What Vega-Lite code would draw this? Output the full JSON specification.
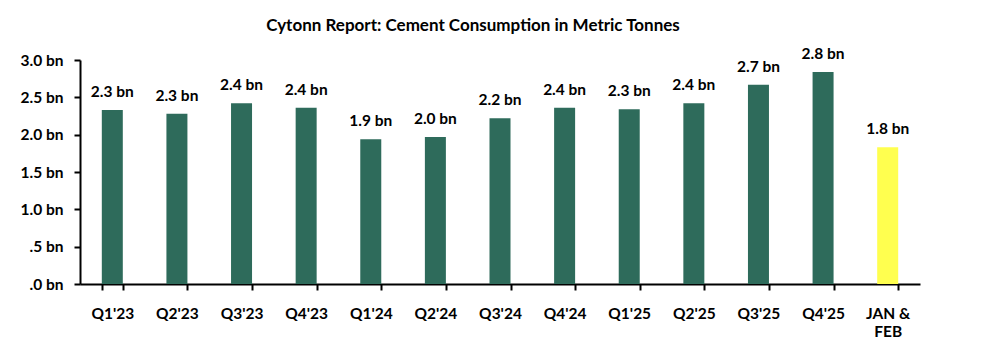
{
  "$schema": "https://vega.github.io/schema/vega-lite/v6.json",
  "autosize": "none",
  "width": 840,
  "height": 224,
  "padding": {"left": 80, "top": 60, "right": 66, "bottom": 70},
  "background": "white",
  "title": {
    "text": "Cytonn Report: Cement Consumption in Metric Tonnes",
    "font": "Lato",
    "fontSize": 17,
    "fontWeight": "bold",
    "color": "black",
    "anchor": "middle",
    "dx": -27,
    "offset": 12
  },
  "data": {
    "values": [
      {"period": "Q1'23", "value": 2.33, "kind": "q"},
      {"period": "Q2'23", "value": 2.28, "kind": "q"},
      {"period": "Q3'23", "value": 2.42, "kind": "q"},
      {"period": "Q4'23", "value": 2.36, "kind": "q"},
      {"period": "Q1'24", "value": 1.94, "kind": "q"},
      {"period": "Q2'24", "value": 1.97, "kind": "q"},
      {"period": "Q3'24", "value": 2.22, "kind": "q"},
      {"period": "Q4'24", "value": 2.36, "kind": "q"},
      {"period": "Q1'25", "value": 2.34, "kind": "q"},
      {"period": "Q2'25", "value": 2.42, "kind": "q"},
      {"period": "Q3'25", "value": 2.67, "kind": "q"},
      {"period": "Q4'25", "value": 2.84, "kind": "q"},
      {"period": "JAN & FEB", "value": 1.83, "kind": "m"}
    ]
  },
  "transform": [
    {"calculate": "format(datum.value, '.1f') + ' bn'", "as": "label"}
  ],
  "encoding": {
    "x": {
      "field": "period",
      "type": "nominal",
      "sort": null,
      "scale": {"paddingInner": 0.675, "paddingOuter": 0.3375},
      "axis": {
        "title": null,
        "labelAngle": 0,
        "labelFont": "Lato",
        "labelFontSize": 15.5,
        "labelFontWeight": "bold",
        "labelColor": "black",
        "labelPadding": 16,
        "labelLineHeight": 18,
        "labelExpr": "datum.label == 'JAN & FEB' ? ['JAN &', 'FEB'] : datum.label",
        "domainColor": "black",
        "domainWidth": 2,
        "tickColor": "black",
        "tickWidth": 2,
        "tickSize": 6,
        "tickBand": "extent",
        "grid": false
      }
    },
    "y": {
      "field": "value",
      "type": "quantitative",
      "scale": {"domain": [0, 3]},
      "axis": {
        "title": null,
        "values": [0, 0.5, 1, 1.5, 2, 2.5, 3],
        "labelExpr": "(datum.value < 1 ? substring(format(datum.value, '.1f'), 1) : format(datum.value, '.1f')) + ' bn'",
        "labelFont": "Lato",
        "labelFontSize": 15.5,
        "labelFontWeight": "bold",
        "labelColor": "black",
        "labelPadding": 11,
        "domainColor": "black",
        "domainWidth": 2,
        "tickColor": "black",
        "tickWidth": 2,
        "tickSize": 6,
        "grid": false
      }
    }
  },
  "layer": [
    {
      "mark": {"type": "bar"},
      "encoding": {
        "color": {
          "field": "kind",
          "type": "nominal",
          "scale": {"domain": ["q", "m"], "range": ["#2E6B5B", "#FFFF4F"]},
          "legend": null
        }
      }
    },
    {
      "mark": {"type": "text", "baseline": "alphabetic", "dy": -13, "font": "Lato", "fontSize": 15.5, "fontWeight": "bold", "color": "black"},
      "encoding": {
        "text": {"field": "label", "type": "nominal"}
      }
    }
  ],
  "config": {"view": {"stroke": null}}
}
